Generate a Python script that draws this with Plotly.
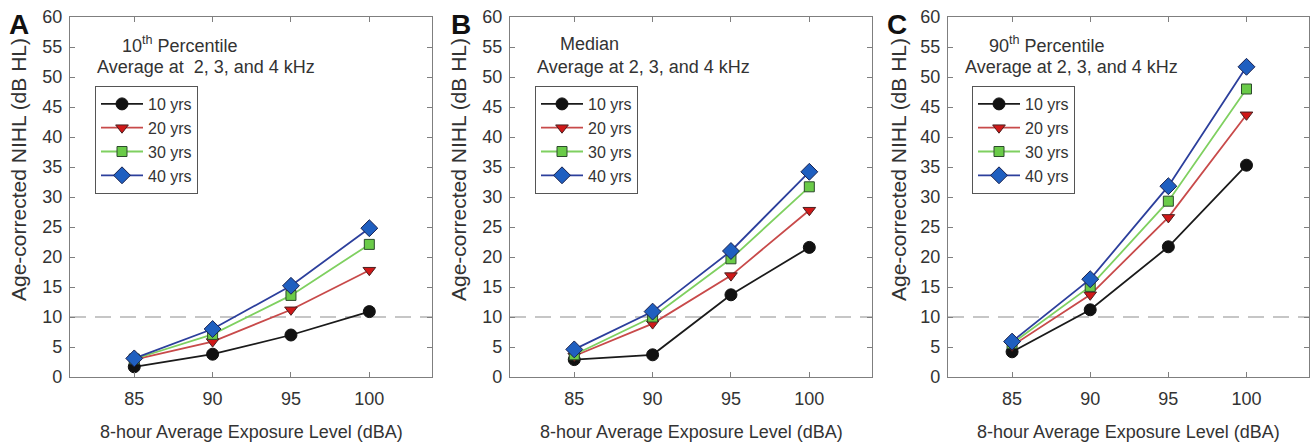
import plotly.graph_objects as go

W, H = 1310, 445

exposure = [85, 90, 95, 100]
series_names = ["10 yrs", "20 yrs", "30 yrs", "40 yrs"]

p10_10 = [1.7, 3.8, 7.0, 10.9]
p10_20 = [2.9, 5.9, 11.2, 17.8]
p10_30 = [3.0, 7.1, 13.6, 22.1]
p10_40 = [3.1, 8.0, 15.2, 24.8]

med_10 = [2.9, 3.7, 13.7, 21.6]
med_20 = [3.5, 8.9, 16.9, 27.8]
med_30 = [3.7, 10.0, 19.7, 31.7]
med_40 = [4.6, 10.9, 21.0, 34.2]

p90_10 = [4.2, 11.2, 21.7, 35.3]
p90_20 = [5.2, 13.7, 26.6, 43.7]
p90_30 = [5.6, 15.1, 29.3, 48.0]
p90_40 = [5.9, 16.3, 31.8, 51.7]

panel_letters = ["A", "B", "C"]
panel_titles = ["10<sup>th</sup> Percentile", "Median", "90<sup>th</sup> Percentile"]
subtitles = ["Average at  2, 3, and 4 kHz", "Average at 2, 3, and 4 kHz", "Average at 2, 3, and 4 kHz"]
x_title = "8-hour Average Exposure Level (dBA)"
y_title = "Age-corrected NIHL (dB HL)"
threshold = 10

panels = [
    [p10_10, p10_20, p10_30, p10_40],
    [med_10, med_20, med_30, med_40],
    [p90_10, p90_20, p90_30, p90_40],
]

FONT = "Liberation Sans, Arial, sans-serif"
TXT = "#333333"
AX = "#7f7f7f"

styles = [
    dict(line="#1a1a1a", fill="#111111", edge="#111111", symbol="circle", size=12),
    dict(line="#c84a4a", fill="#d01818", edge="#4a2020", symbol="triangle-down", size=11),
    dict(line="#7fd060", fill="#6acb48", edge="#2c4a2c", symbol="square", size=10),
    dict(line="#2c3f9c", fill="#1f5fc0", edge="#1a2250", symbol="diamond", size=13),
]

# panel plot-area pixel boxes
px_left = [70, 510, 948]
px_right = [432, 872, 1309]
px_top, px_bot = 17, 377

def fx(x):
    return x / W

def fy(y):
    return 1 - y / H

fig = go.Figure()
legends = ["legend", "legend2", "legend3"]
for i, data in enumerate(panels):
    xa = "x" if i == 0 else f"x{i+1}"
    ya = "y" if i == 0 else f"y{i+1}"
    for j, vals in enumerate(data):
        s = styles[j]
        fig.add_trace(go.Scatter(
            x=exposure, y=vals, mode="lines+markers", name=series_names[j],
            xaxis=xa, yaxis=ya, legend=legends[i],
            line=dict(color=s["line"], width=1.8),
            marker=dict(symbol=s["symbol"], size=s["size"], color=s["fill"],
                        line=dict(color=s["edge"], width=1)),
        ))

layout = dict(
    template="none",
    width=W, height=H, autosize=False,
    margin=dict(l=0, r=0, t=0, b=0, pad=0, autoexpand=False),
    paper_bgcolor="white", plot_bgcolor="white",
    font=dict(family=FONT, size=18, color=TXT),
    showlegend=True,
)

ann = []
shapes = []
for i in range(3):
    sx = "" if i == 0 else str(i + 1)
    layout[f"xaxis{sx}"] = dict(
        domain=[fx(px_left[i]), fx(px_right[i])], anchor=f"y{sx}", automargin=False,
        range=[80.9, 104.0], tickvals=exposure, ticks="inside", ticklen=5,
        tickcolor=AX, showline=True, linecolor=AX, linewidth=1.3, mirror="allticks",
        showgrid=False, zeroline=False, tickfont=dict(size=18, color=TXT),
        ticklabelstandoff=5,
    )
    layout[f"yaxis{sx}"] = dict(
        domain=[fy(px_bot), fy(px_top)], anchor=f"x{sx}", automargin=False,
        range=[0, 60], tickvals=list(range(0, 61, 5)), ticks="inside", ticklen=5,
        tickcolor=AX, showline=True, linecolor=AX, linewidth=1.3, mirror="allticks",
        showgrid=False, zeroline=False, tickfont=dict(size=18, color=TXT),
        ticklabelstandoff=3,
    )
    shapes.append(dict(type="line", xref=f"x{sx} domain", yref=f"y{sx}",
                       x0=0, x1=1, y0=threshold, y1=threshold,
                       line=dict(color="#b4b4b4", width=1.6, dash="16px,9px"), layer="below"))
    cx = (px_left[i] + px_right[i]) / 2
    ann.append(dict(text=x_title, x=fx(cx), y=fy(432), xref="paper", yref="paper",
                    showarrow=False, xanchor="center", yanchor="middle",
                    font=dict(size=18, color=TXT)))
    ycx = [18, 458, 898][i]
    ann.append(dict(text=y_title, x=fx(ycx), y=fy(170), xref="paper", yref="paper",
                    showarrow=False, textangle=-90, xanchor="center", yanchor="middle",
                    font=dict(size=21, color=TXT)))
    lx = [19, 461, 897][i]
    ann.append(dict(text=f"<b>{panel_letters[i]}</b>", x=fx(lx), y=fy(24), xref="paper", yref="paper",
                    showarrow=False, xanchor="center", yanchor="middle",
                    font=dict(size=28, color="#111111")))
    tx = [120, 558, 987][i]
    sx2 = [95, 535, 963][i]
    ann.append(dict(text=panel_titles[i], x=fx(tx), y=fy(44), xref="paper", yref="paper",
                    showarrow=False, xanchor="left", yanchor="middle",
                    font=dict(size=18, color=TXT)))
    ann.append(dict(text=subtitles[i], x=fx(sx2), y=fy(67), xref="paper", yref="paper",
                    showarrow=False, xanchor="left", yanchor="middle",
                    font=dict(size=18, color=TXT)))
    leg_x = [95, 535, 972][i]
    layout[legends[i]] = dict(
        x=fx(leg_x), y=fy(86), xref="paper", yref="paper", xanchor="left", yanchor="top",
        bgcolor="white", bordercolor="#555555", borderwidth=1,
        font=dict(size=16, color=TXT), tracegroupgap=0, itemwidth=42,
    )

layout["annotations"] = ann
layout["shapes"] = shapes
fig.update_layout(**layout)

PAGE_CSS = (
    "var s=document.createElement('style');"
    "s.textContent='html,body{margin:0;padding:0;overflow:hidden;width:1310px;height:445px;}"
    "body>div{width:1310px;height:445px;overflow:hidden;line-height:0;font-size:0;}';"
    "document.head.appendChild(s);"
)
fig.write_html(
    "out.html",
    config={"displayModeBar": False},
    post_script=PAGE_CSS,
)
